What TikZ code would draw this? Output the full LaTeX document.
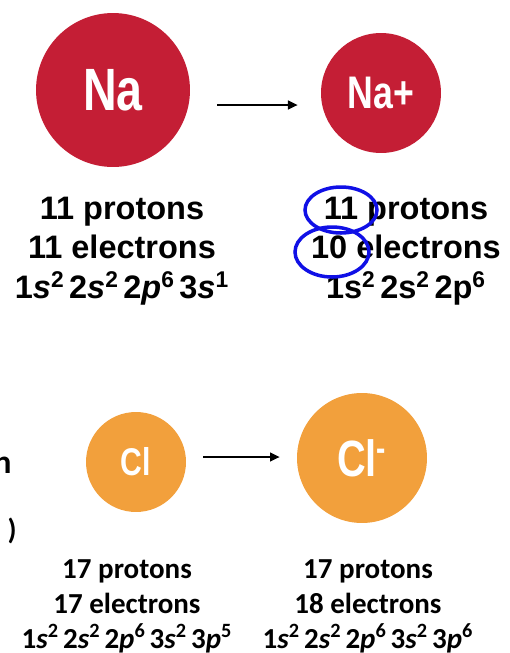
\documentclass[tikz,border=0pt]{standalone}
\usepackage{fontspec}
\setmainfont{Liberation Sans}
\newfontfamily\condfont[FakeStretch=0.78]{Liberation Sans Bold}
\newfontfamily\calfont{Carlito}
\usetikzlibrary{positioning,arrows.meta,calc}
\definecolor{nacolor}{HTML}{C41E35}
\definecolor{clcolor}{HTML}{F2A03C}
\definecolor{markcolor}{HTML}{1010E6}
\newcommand\tightsp{\spaceskip=0.14em plus 0.05em\relax}

\begin{document}
\begin{tikzpicture}[
  x=0.02cm, y=-0.02cm,
  atom/.style={circle, inner sep=0pt, text=white, font=\condfont},
  natext/.style={align=center, font=\fontsize{18.5}{22.5}\selectfont\bfseries},
  cltext/.style={align=center, font=\calfont\fontsize{16.5}{20}\selectfont\bfseries},
  react/.style={-{Triangle[length=5.5pt,width=5pt]}, line width=1.1pt},
  penmark/.style={draw=markcolor, line width=2pt},
]
\useasboundingbox (0,0) rectangle (510,653);

% Sodium atom and ion
\node[atom, fill=nacolor, minimum size=3.08cm, font=\condfont\fontsize{34}{34}\selectfont] (na) at (113,90) {Na};
\node[atom, fill=nacolor, minimum size=2.4cm, font=\condfont\fontsize{26}{26}\selectfont] (nap) at (381,93) {Na+};
\draw[react] ($(na.east)+(27,15)$) -- ($(nap.west)+(-23,12)$);

\node[natext] (natxt) at (122,251) {11 protons\\11 electrons\\
  {\tightsp 1\textit{s}\textsuperscript{2} 2\textit{s}\textsuperscript{2} 2\textit{p}\textsuperscript{6} 3\textit{s}\textsuperscript{1}}};
\node[natext] (naptxt) at (406,251) {11 protons\\10 electrons\\
  {\tightsp 1s\textsuperscript{2} 2s\textsuperscript{2} 2p\textsuperscript{6}}};

% pen circles round the numbers
\draw[penmark] (341,210) ellipse [x radius=0.72cm, y radius=0.46cm];
\draw[penmark] (332,252) ellipse [x radius=0.74cm, y radius=0.5cm];

% Chlorine atom and ion
\node[atom, fill=clcolor, minimum size=2cm, font=\condfont\fontsize{22}{22}\selectfont] (cl) at (136,462) {Cl};
\node[atom, fill=clcolor, minimum size=2.6cm, font=\condfont\fontsize{29}{29}\selectfont] (clm) at (362,458) {Cl\textsuperscript{-}};
\draw[react] ($(cl.east)+(17,-5)$) -- ($(clm.west)+(-17,-1)$);

\node[cltext] (cltxt) at (127,606) {17 protons\\17 electrons\\
  {\tightsp 1\textit{s}\textsuperscript{2} 2\textit{s}\textsuperscript{2} 2\textit{p}\textsuperscript{6} 3\textit{s}\textsuperscript{2} 3\textit{p}\textsuperscript{5}}};
\node[cltext] (clmtxt) at (368,606) {17 protons\\18 electrons\\
  {\tightsp 1\textit{s}\textsuperscript{2} 2\textit{s}\textsuperscript{2} 2\textit{p}\textsuperscript{6} 3\textit{s}\textsuperscript{2} 3\textit{p}\textsuperscript{6}}};

% cut-off text at the left edge
\node[cltext, anchor=base east, inner sep=0pt, font=\calfont\fontsize{19}{19}\selectfont\bfseries] (cutn) at (12,473) {n};
\node[cltext, anchor=east, inner sep=0pt] (cutp) at (17,531) {)};
\end{tikzpicture}
\end{document}
